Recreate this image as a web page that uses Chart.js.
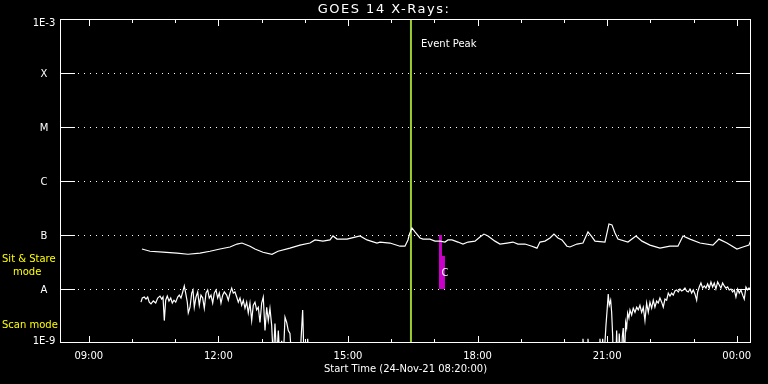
<!DOCTYPE html>
<html><head><meta charset="utf-8">
<script src="https://cdn.jsdelivr.net/npm/chart.js@4/dist/chart.umd.min.js"></script>
<style>html,body{margin:0;padding:0;background:#000;}canvas{display:block;}</style>
</head><body>
<canvas id="c" width="768" height="384"></canvas>
<script>
const chartTitle = "GOES 14 X-Rays:";
const xAxisTitle = "Start Time (24-Nov-21 08:20:00)";
const startHour = 8 + 20 / 60;
const endHour = 24.33;
const hourTicks = [9,10,11,12,13,14,15,16,17,18,19,20,21,22,23,24];
const hourLabelTicks = [9,12,15,18,21,24];
const hourLabels = ["09:00","12:00","15:00","18:00","21:00","00:00"];
const fluxLevels = [1e-9,1e-8,1e-7,1e-6,1e-5,1e-4,1e-3];
const fluxLabels = ["1E-9","A","B","C","M","X","1E-3"];
const eventPeakTime = 16.458;
const eventPeakLabel = "Event Peak";
const modeLabels = ["Sit & Stare","mode","Scan mode"];
const flareClassLabel = "C";

// long channel (1-8 A), W/m^2
const longTimes = [10.231,10.417,10.718,11.042,11.296,11.574,11.806,12.037,12.269,12.431,
  12.546,12.731,12.847,13.032,13.241,13.380,13.657,13.889,14.120,14.236,
  14.421,14.583,14.653,14.745,14.977,15.278,15.440,15.671,15.741,15.972,
  16.204,16.319,16.389,16.424,16.481,16.551,16.667,16.736,16.898,17.014,
  17.130,17.245,17.315,17.407,17.546,17.662,17.778,17.940,18.056,18.148,
  18.241,18.403,18.519,18.681,18.819,18.935,19.097,19.259,19.375,19.444,
  19.560,19.676,19.769,19.861,19.954,20.069,20.139,20.301,20.440,20.556,
  20.648,20.718,20.949,21.042,21.111,21.181,21.250,21.481,21.667,21.806,
  21.991,22.222,22.454,22.639,22.755,22.917,23.148,23.449,23.588,23.773,
  24.005,24.144,24.282,24.330];
const longFlux = [5.5e-8,5.0e-8,4.8e-8,4.6e-8,4.4e-8,4.6e-8,5.0e-8,5.5e-8,6.0e-8,6.8e-8,
  7.1e-8,6.2e-8,5.5e-8,4.8e-8,4.4e-8,5.0e-8,5.7e-8,6.5e-8,7.1e-8,8.1e-8,
  7.7e-8,8.1e-8,9.6e-8,8.4e-8,8.4e-8,9.6e-8,8.1e-8,7.1e-8,7.4e-8,7.1e-8,
  6.2e-8,6.2e-8,8.1e-8,1.04e-7,1.35e-7,1.14e-7,8.8e-8,8.4e-8,8.4e-8,7.7e-8,
  7.7e-8,7.4e-8,8.1e-8,8.1e-8,7.4e-8,6.8e-8,7.4e-8,7.7e-8,9.2e-8,1.04e-7,
  9.6e-8,7.7e-8,6.8e-8,7.1e-8,7.4e-8,6.8e-8,6.8e-8,6.2e-8,5.7e-8,7.4e-8,
  7.7e-8,8.8e-8,1.04e-7,8.8e-8,8.1e-8,6.2e-8,6.0e-8,6.8e-8,7.1e-8,1.14e-7,
  9.2e-8,7.7e-8,7.4e-8,1.6e-7,1.54e-7,1.09e-7,8.4e-8,7.4e-8,9.6e-8,7.7e-8,
  6.5e-8,5.7e-8,6.2e-8,6.2e-8,9.6e-8,8.4e-8,7.1e-8,6.5e-8,8.4e-8,7.1e-8,
  5.5e-8,6.0e-8,6.5e-8,8.1e-8];

// short channel (0.5-4 A), W/m^2 (values below 1E-9 fall off the bottom)
const shortTimes = [10.208,10.238,10.285,10.324,10.363,10.400,10.440,10.493,10.549,10.595,
  10.648,10.688,10.718,10.748,10.780,10.817,10.856,10.896,10.933,10.972,
  11.012,11.058,11.095,11.134,11.174,11.211,11.243,11.280,11.303,11.343,
  11.382,11.412,11.442,11.481,11.521,11.558,11.597,11.637,11.674,11.713,
  11.752,11.789,11.829,11.868,11.905,11.944,11.984,12.021,12.060,12.100,
  12.137,12.192,12.229,12.269,12.308,12.345,12.384,12.424,12.461,12.500,
  12.539,12.577,12.616,12.655,12.692,12.731,12.771,12.808,12.847,12.886,
  12.924,12.963,13.002,13.039,13.079,13.118,13.155,13.194,13.234,13.271,
  13.310,13.350,13.387,13.426,13.466,13.503,13.542,13.581,13.618,13.657,
  13.697,13.890,13.912,13.951,13.982,14.040,14.067,14.097,20.420,20.440,
  20.475,20.535,20.556,20.590,20.812,20.833,20.868,20.896,20.926,20.972,
  21.002,21.025,21.049,21.081,21.104,21.127,21.141,21.200,21.220,21.238,
  21.262,21.280,21.308,21.335,21.350,21.373,21.400,21.428,21.451,21.474,
  21.504,21.528,21.567,21.604,21.644,21.683,21.720,21.759,21.799,21.836,
  21.875,21.914,21.952,21.991,22.030,22.067,22.106,22.146,22.183,22.222,
  22.262,22.299,22.338,22.377,22.415,22.454,22.493,22.530,22.569,22.609,
  22.646,22.685,22.725,22.762,22.801,22.840,22.878,22.917,22.956,22.993,
  23.032,23.072,23.095,23.132,23.171,23.211,23.248,23.287,23.326,23.363,
  23.403,23.442,23.479,23.518,23.558,23.595,23.634,23.673,23.711,23.750,
  23.789,23.826,23.866,23.905,23.942,23.981,24.021,24.058,24.097,24.137,
  24.174,24.213,24.252,24.282,24.330];
const shortFlux = [5.7e-9,6.8e-9,7.1e-9,6.5e-9,7.1e-9,5.7e-9,5.3e-9,6.0e-9,5.5e-9,6.8e-9,
  7.4e-9,6.5e-9,7.1e-9,2.6e-9,6.2e-9,7.4e-9,6.0e-9,6.8e-9,5.5e-9,6.2e-9,
  5.7e-9,7.1e-9,7.7e-9,6.8e-9,8.8e-9,1.14e-8,8.4e-9,5.7e-9,3.6e-9,4.6e-9,
  8.4e-9,9.6e-9,4.6e-9,7.1e-9,8.8e-9,5.0e-9,7.7e-9,6.8e-9,4.4e-9,8.4e-9,
  9.6e-9,6.8e-9,7.7e-9,5.5e-9,8.4e-9,9.6e-9,6.8e-9,8.4e-9,5.5e-9,7.7e-9,
  8.8e-9,7.7e-9,6.2e-9,8.4e-9,1.04e-8,8.4e-9,8.8e-9,7.1e-9,5.7e-9,6.8e-9,
  5.0e-9,6.2e-9,4.4e-9,5.7e-9,3.6e-9,5.5e-9,2.6e-9,5.0e-9,5.7e-9,4.1e-9,
  4.6e-9,2.4e-9,5.5e-9,7.1e-9,1.7e-9,4.6e-9,2.6e-9,4.4e-9,2.1e-9,5e-10,
  2.3e-9,5e-10,1.7e-9,5e-10,1.1e-9,5e-10,3.0e-9,2.4e-9,1.7e-9,1.5e-9,
  5e-10,5e-10,1.1e-9,4.1e-9,5e-10,5e-10,1.2e-9,5e-10,5e-10,1.2e-9,
  5e-10,5e-10,1.2e-9,5e-10,5e-10,1.2e-9,5e-10,1.2e-9,5e-10,2.1e-9,
  4.4e-9,8.1e-9,5.0e-9,6.2e-9,3.7e-9,1.4e-9,5e-10,5e-10,1.7e-9,5e-10,
  5e-10,1.5e-9,5e-10,5e-10,1.3e-9,1.9e-9,5e-10,2.4e-9,1.9e-9,3.6e-9,
  2.9e-9,4.1e-9,3.3e-9,4.4e-9,3.7e-9,4.6e-9,4.1e-9,5.0e-9,3.7e-9,4.6e-9,
  2.6e-9,5.5e-9,3.7e-9,5.7e-9,4.4e-9,6.2e-9,4.6e-9,6.0e-9,5.5e-9,6.8e-9,
  5.7e-9,4.6e-9,6.5e-9,6.2e-9,8.4e-9,7.4e-9,8.4e-9,7.7e-9,9.2e-9,9.6e-9,
  8.8e-9,1.0e-8,9.2e-9,9.6e-9,1.04e-8,9.2e-9,8.8e-9,1.0e-8,8.4e-9,9.6e-9,
  8.1e-9,6.2e-9,8.8e-9,1.09e-8,1.29e-8,1.04e-8,1.14e-8,1.04e-8,1.24e-8,1.04e-8,
  1.35e-8,1.09e-8,1.29e-8,1.0e-8,1.35e-8,1.19e-8,1.04e-8,1.29e-8,1.14e-8,1.04e-8,
  1.09e-8,9.6e-9,1.0e-8,8.8e-9,9.6e-9,7.1e-9,1.0e-8,8.4e-9,9.6e-9,7.7e-9,
  6.5e-9,1.09e-8,9.6e-9,1.04e-8,1.0e-8];

// flare marker bars (magenta)
const markerTimes = [17.141, 17.176];
const markerTop = [1e-7, 4.1e-8];
const markerBottom = [1e-8, 1e-8];
const markerWidths = [3, 6];
const flareLabelFlux = 2.07e-8;

function pts(t, v) { const n = Math.min(t.length, v.length); const a = []; for (let i = 0; i < n; i++) a.push({x: t[i], y: v[i]}); return a; }

const FONT = "10px 'DejaVu Sans'";
const CAP = 3.6;

const datasets = [
  {data: pts(longTimes, longFlux), borderColor: '#ffffff', borderWidth: 1.2},
  {data: pts(shortTimes, shortFlux), borderColor: '#ffffff', borderWidth: 1.2},
  {data: [{x: eventPeakTime, y: fluxLevels[0]}, {x: eventPeakTime, y: fluxLevels[6]}], borderColor: '#9acd32', borderWidth: 2}
];
markerTimes.forEach((t, i) => datasets.push({data: [{x: t, y: markerBottom[i]}, {x: t, y: markerTop[i]}], borderColor: '#c800c8', borderWidth: markerWidths[i], borderCapStyle: 'butt'}));

const gfx = {
  id: 'gfx',
  beforeDatasetsDraw(chart) {
    const {ctx, chartArea: ca, scales: {y}} = chart;
    ctx.save();
    ctx.strokeStyle = '#ffffff'; ctx.lineWidth = 1; ctx.setLineDash([1, 5]);
    for (let i = 1; i < fluxLevels.length - 1; i++) {
      const py = Math.round(y.getPixelForValue(fluxLevels[i])) + 0.5;
      ctx.beginPath(); ctx.moveTo(ca.left + 18, py); ctx.lineTo(ca.right - 14, py); ctx.stroke();
    }
    ctx.restore();
  },
  afterDatasetsDraw(chart) {
    const {ctx, chartArea: ca, scales: {x, y}} = chart;
    ctx.save();
    ctx.strokeStyle = '#ffffff'; ctx.lineWidth = 1; ctx.setLineDash([]);
    const L = (x1, y1, x2, y2) => { ctx.beginPath(); ctx.moveTo(x1, y1); ctx.lineTo(x2, y2); ctx.stroke(); };
    ctx.strokeRect(ca.left + 0.5, ca.top + 0.5, ca.right - ca.left - 1, ca.bottom - ca.top - 1);
    hourTicks.forEach(h => {
      const px = Math.round(x.getPixelForValue(h)) + 0.5;
      const len = hourLabelTicks.includes(h) ? 7 : 4;
      L(px, ca.bottom, px, ca.bottom - len);
      L(px, ca.top, px, ca.top + len);
    });
    for (let i = 1; i < fluxLevels.length - 1; i++) {
      const py = Math.round(y.getPixelForValue(fluxLevels[i])) + 0.5;
      L(ca.left, py, ca.left + 15, py);
      L(ca.right - 15, py, ca.right, py);
    }
    ctx.font = FONT; ctx.fillStyle = '#ffffff'; ctx.textBaseline = 'alphabetic';
    ctx.textAlign = 'center';
    fluxLevels.forEach((v, i) => {
      let py = y.getPixelForValue(v);
      if (i === 0) py -= 2.5;
      if (i === fluxLevels.length - 1) py += 3.5;
      ctx.fillText(fluxLabels[i], ca.left - 16, py + CAP);
    });
    hourLabelTicks.forEach((h, i) => {
      ctx.fillText(hourLabels[i], x.getPixelForValue(h), ca.bottom + 12 + CAP);
    });
    const cx = (ca.left + ca.right) / 2;
    ctx.fillText(xAxisTitle, cx, ca.bottom + 25.5 + CAP);
    ctx.font = "13px 'DejaVu Sans'";
    ctx.letterSpacing = '1.5px';
    ctx.fillText(chartTitle, chart.width / 2, 13);
    ctx.letterSpacing = '0px';
    ctx.font = FONT; ctx.textAlign = 'left';
    ctx.fillText(eventPeakLabel, x.getPixelForValue(eventPeakTime) + 10, ca.top + 24 + CAP);
    ctx.fillText(flareClassLabel, x.getPixelForValue(markerTimes[0]) + 1, y.getPixelForValue(flareLabelFlux) + CAP);
    ctx.fillStyle = '#ffff00';
    const yA = y.getPixelForValue(fluxLevels[1]);
    ctx.fillText(modeLabels[0], 2, yA - 31 + CAP);
    ctx.fillText(modeLabels[1], 13, yA - 18 + CAP);
    ctx.fillText(modeLabels[2], 2, yA + 35 + CAP);
    ctx.restore();
  }
};

new Chart(document.getElementById('c'), {
  type: 'line',
  data: {datasets},
  options: {
    responsive: false,
    animation: false,
    events: [],
    layout: {padding: {left: 60, right: 17, top: 19, bottom: 41}},
    elements: {point: {radius: 0}, line: {tension: 0}},
    scales: {
      x: {type: 'linear', min: startHour, max: endHour, display: false},
      y: {type: 'logarithmic', min: fluxLevels[0], max: fluxLevels[6], display: false}
    },
    plugins: {legend: {display: false}, tooltip: {enabled: false}, title: {display: false}}
  },
  plugins: [gfx]
});
</script>
</body></html>
